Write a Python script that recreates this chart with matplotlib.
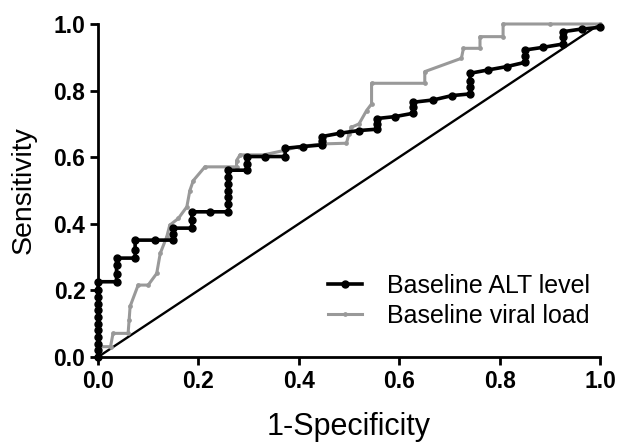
import matplotlib
matplotlib.use('Agg')
import matplotlib.pyplot as plt

# ROC points
alt_fpr = [0.0, 0.0, 0.0, 0.0, 0.0, 0.0, 0.0, 0.0, 0.0, 0.0, 0.0, 0.0,
           0.037, 0.037, 0.037, 0.037,
           0.074, 0.074, 0.074,
           0.113, 0.15, 0.15, 0.15,
           0.187, 0.187, 0.187,
           0.223, 0.26, 0.26, 0.26, 0.26, 0.26, 0.26, 0.26,
           0.296, 0.296, 0.296,
           0.333, 0.373, 0.373,
           0.409, 0.446, 0.446, 0.446,
           0.482, 0.519, 0.555, 0.555, 0.555,
           0.592, 0.628, 0.628, 0.628,
           0.668, 0.705, 0.741, 0.741, 0.741, 0.741,
           0.777, 0.814, 0.851, 0.851, 0.851,
           0.887, 0.927, 0.927, 0.927,
           0.964, 1.0]
alt_tpr = [0.0, 0.02, 0.04, 0.06, 0.08, 0.10, 0.12, 0.14, 0.16, 0.18, 0.20, 0.226,
           0.226, 0.25, 0.275, 0.297,
           0.297, 0.32, 0.351,
           0.351, 0.351, 0.37, 0.387,
           0.387, 0.41, 0.436,
           0.436, 0.436, 0.46, 0.48, 0.50, 0.52, 0.54, 0.561,
           0.561, 0.58, 0.602,
           0.602, 0.602, 0.627,
           0.632, 0.637, 0.65, 0.662,
           0.672, 0.68, 0.684, 0.70, 0.716,
           0.722, 0.732, 0.75, 0.765,
           0.772, 0.785, 0.79, 0.81, 0.83, 0.852,
           0.862, 0.872, 0.885, 0.905, 0.922,
           0.93, 0.94, 0.96, 0.977,
           0.985, 0.99]

vl_fpr = [0.0, 0.0, 0.025, 0.03, 0.06, 0.062, 0.064, 0.08, 0.1, 0.117, 0.124,
          0.137, 0.143, 0.16, 0.177, 0.183, 0.19, 0.213, 0.276, 0.276, 0.283,
          0.33, 0.37, 0.40, 0.45, 0.495, 0.5, 0.505, 0.52, 0.535, 0.545, 0.545,
          0.651, 0.651, 0.724, 0.728, 0.761, 0.761, 0.807, 0.807, 0.9, 1.0]
vl_tpr = [0.0, 0.031, 0.031, 0.071, 0.071, 0.11, 0.152, 0.216, 0.216, 0.251, 0.311,
          0.361, 0.396, 0.416, 0.451, 0.5, 0.53, 0.571, 0.571, 0.59, 0.607,
          0.607, 0.62, 0.632, 0.64, 0.642, 0.67, 0.69, 0.70, 0.74, 0.76, 0.822,
          0.822, 0.857, 0.897, 0.927, 0.927, 0.962, 0.962, 1.0, 1.0, 1.0]

ref_line = [0.0, 1.0]

fig = plt.figure(figsize=(6.17, 4.42), dpi=100)
ax = fig.add_axes([0.1588, 0.1923, 0.8136, 0.7534])

ax.plot(ref_line, ref_line, color='black', lw=1.7, zorder=1)
ax.plot(vl_fpr, vl_tpr, color='#999999', lw=2.2, marker='o', markersize=2.4,
        label='Baseline viral load', clip_on=False, zorder=2)
ax.plot(alt_fpr, alt_tpr, color='black', lw=2.6, marker='o', markersize=5,
        label='Baseline ALT level', clip_on=False, zorder=3)

ax.set_xlim(0, 1)
ax.set_ylim(0, 1)
ax.set_xticks([0.0, 0.2, 0.4, 0.6, 0.8, 1.0])
ax.set_yticks([0.0, 0.2, 0.4, 0.6, 0.8, 1.0])
ax.set_xticklabels(['0.0', '0.2', '0.4', '0.6', '0.8', '1.0'])
ax.set_yticklabels(['0.0', '0.2', '0.4', '0.6', '0.8', '1.0'])
for lab in ax.get_xticklabels() + ax.get_yticklabels():
    lab.set_fontfamily('Liberation Sans')
    lab.set_fontweight('bold')
    lab.set_fontsize(16.5)

ax.spines['top'].set_visible(False)
ax.spines['right'].set_visible(False)
ax.spines['left'].set_linewidth(2)
ax.spines['bottom'].set_linewidth(2)
ax.tick_params(length=6, width=2, direction='out', pad=3)

ax.set_xlabel('1-Specificity', fontfamily='Liberation Sans', fontsize=22, labelpad=14)
ax.set_ylabel('Sensitivity', fontfamily='Liberation Sans', fontsize=20.5, labelpad=12)

handles, labels = ax.get_legend_handles_labels()
ax.legend(handles[::-1], labels[::-1], loc='lower right', bbox_to_anchor=(1.025, 0.02),
          frameon=False, prop={'family': 'Liberation Sans', 'size': 18},
          handlelength=1.35, handletextpad=1.0, labelspacing=0.25)

fig.savefig('out.png', dpi=100)
